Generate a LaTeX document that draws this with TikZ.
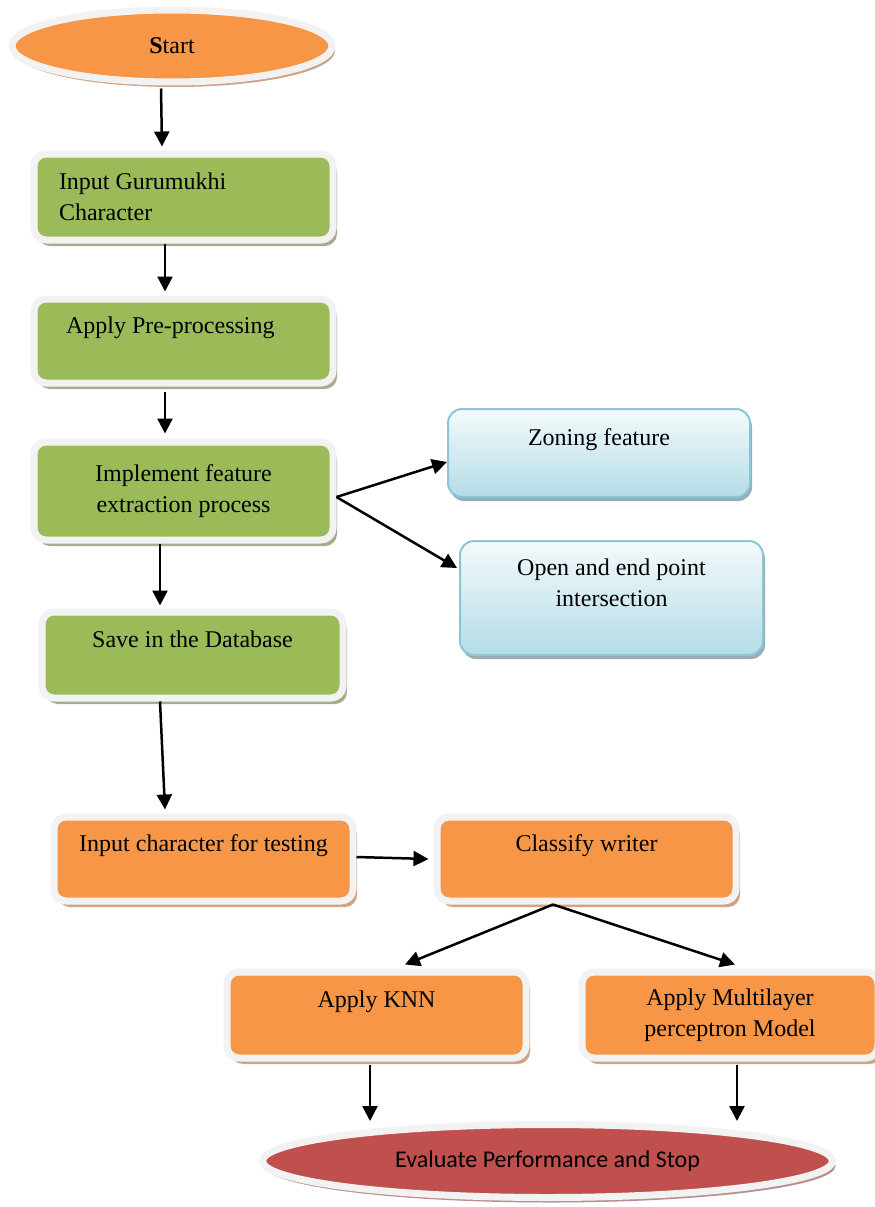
\documentclass[tikz,border=0pt]{standalone}
\usepackage{fontspec}
\setmainfont{Liberation Serif}
\newfontfamily\calibfont{Carlito}
\usepackage{xcolor}
\usetikzlibrary{arrows.meta,shadows,shapes.geometric}

\definecolor{glow}{HTML}{F2F2F2}
\definecolor{ogreen}{HTML}{9BBB59}
\definecolor{greenshade}{HTML}{A3AF8C}
\definecolor{oorange}{HTML}{F79646}
\definecolor{orangeshade}{HTML}{CFA383}
\definecolor{ored}{HTML}{C0504D}
\definecolor{redshade}{HTML}{B98F8E}
\definecolor{aquatop}{HTML}{F4FAFC}
\definecolor{aquabot}{HTML}{B4DCE7}
\definecolor{aquaedge}{HTML}{8CC6D6}
\definecolor{aquashade}{HTML}{98ADB4}
\newcommand\boxfont{\fontsize{24}{31}\selectfont}

\begin{document}
\begin{tikzpicture}[x=1pt, y=-1pt,
  box/.style={rounded corners=12pt, draw=glow, line width=7pt, minimum width=299pt, minimum height=84pt,
    inner sep=0pt, align=center, font=\boxfont},
  greenbox/.style={box, fill=ogreen, drop shadow={shadow xshift=4pt, shadow yshift=-6pt, fill=greenshade, opacity=1}},
  orangebox/.style={box, fill=oorange, drop shadow={shadow xshift=4pt, shadow yshift=-6pt, fill=orangeshade, opacity=1}},
  aquabox/.style={rounded corners=14pt, draw=aquaedge, line width=2pt, minimum width=302pt, minimum height=88pt,
    inner sep=0pt, align=center, font=\boxfont, top color=aquatop, bottom color=aquabot,
    drop shadow={shadow xshift=2pt, shadow yshift=-4pt, fill=aquashade, opacity=1}},
  terminal/.style={ellipse, draw=glow, line width=7pt, inner sep=0pt},
  arrow/.style={-{Triangle[length=15pt,width=15pt]}, line width=2.5pt}
]
  \useasboundingbox (0,0) rectangle (875,1207);

  \node[terminal, fill=oorange, minimum width=320pt, minimum height=72pt, font=\boxfont,
    drop shadow={shadow xshift=3pt, shadow yshift=-5pt, fill=orangeshade, opacity=1}] (start) at (172,46) {\textbf{S}tart};
  \node[greenbox, minimum height=86pt, text width=249pt, align=flush left] (gur) at (183.5,197) {Input Gurumukhi\\Character};
  \node[greenbox, text width=235pt, align=flush left] (pre) at (183.5,341) {Apply Pre-processing\\ \mbox{}};
  \node[greenbox, minimum height=98pt] (impl) at (183.5,491) {Implement feature\\extraction process};
  \node[greenbox, minimum width=301pt, minimum height=86pt] (save) at (192.5,655) {Save in the Database\\ \mbox{}};

  \node[aquabox] (zone) at (599,453) {Zoning feature\\ \mbox{}};
  \node[aquabox, minimum width=303pt, minimum height=114pt] (open) at (611.5,598) {Open and end point\\intersection\\ \mbox{}};

  \node[orangebox] (test) at (203.5,859) {Input character for testing\\ \mbox{}};
  \node[orangebox] (cls) at (586.5,859) {Classify writer\\ \mbox{}};
  \node[orangebox, minimum height=86pt] (knn) at (376.5,1015) {Apply KNN\\ \mbox{}};
  \node[orangebox, minimum width=296pt, minimum height=86pt] (mlp) at (730,1015) {Apply Multilayer\\perceptron Model};

  \node[terminal, fill=ored, minimum width=570pt, minimum height=73pt, font=\calibfont\fontsize{24}{28}\selectfont,
    drop shadow={shadow xshift=3pt, shadow yshift=-5pt, fill=redshade, opacity=1}] (stop) at (547.5,1161) {Evaluate Performance and Stop};

  \draw[arrow] ([xshift=-11pt, yshift=-3pt]start.south) -- ([xshift=-21.5pt, yshift=4pt]gur.north);
  \draw[arrow] ([xshift=-18.5pt]gur.south) -- ([xshift=-18.5pt, yshift=4pt]pre.north);
  \draw[arrow] ([xshift=-18.5pt, yshift=-5pt]pre.south) -- ([xshift=-18.5pt, yshift=5pt]impl.north);
  \draw[arrow] ([yshift=-6pt]impl.east) -- ([yshift=-9pt]zone.west);
  \draw[arrow] ([yshift=-6pt]impl.east) -- ([xshift=-2pt, yshift=30pt]open.west);
  \draw[arrow] ([xshift=-23.5pt]impl.south) -- ([xshift=-32.5pt, yshift=3pt]save.north);
  \draw[arrow] ([xshift=-32.5pt]save.south) -- ([xshift=-38.5pt, yshift=4pt]test.north);
  \draw[arrow] ([yshift=2pt]test.east) -- ([xshift=-5pt]cls.west);
  \draw[arrow] ([xshift=-33.5pt]cls.south) -- ([xshift=28.5pt, yshift=4pt]knn.north);
  \draw[arrow] ([xshift=-33.5pt]cls.south) -- ([xshift=5pt, yshift=4pt]mlp.north);
  \draw[arrow] ([xshift=-6.5pt, yshift=-3pt]knn.south) -- ([xshift=-177.5pt]stop.north);
  \draw[arrow] ([xshift=7pt, yshift=-3pt]mlp.south) -- ([xshift=189.5pt]stop.north);
\end{tikzpicture}
\end{document}
